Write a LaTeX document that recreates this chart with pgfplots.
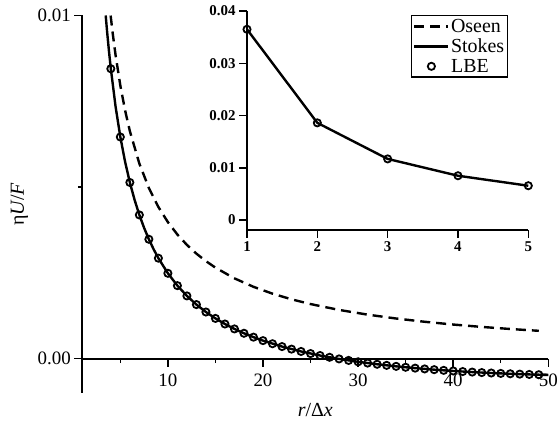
\documentclass[border=0pt]{standalone}
\usepackage{fontspec}
\setmainfont{Liberation Serif}
\usepackage{pgfplots}
\pgfplotsset{compat=1.18}
\begin{document}
\begin{tikzpicture}
\useasboundingbox (0,0) rectangle (558bp,428bp);
\begin{axis}[
  at={(82.3bp,35bp)}, anchor=south west,
  scale only axis, width=466bp, height=377.5bp,
  xmin=1, xmax=50, ymin=-0.001, ymax=0.01,
  axis x line=middle, axis y line=left,
  axis line style={-, line width=1.8bp},
  xtick={10,20,30,40,50}, xticklabels={10,20,30,40,50},
  minor xtick={5,15,25,35,45},
  ytick={0,0.01}, yticklabels={0.00,0.01}, minor ytick={0.005},
  hide obscured y ticks=false, hide obscured x ticks=false,
  tick align=outside,
  major tick length=8bp, minor tick length=4.5bp,
  tick style={black, line width=1.5bp},
  tick label style={font=\fontsize{19}{19}\selectfont},
  xticklabel style={yshift=-4bp},
  /pgf/number format/assume math mode=true,
  scaled y ticks=false,
  xlabel={{\itshape r}/Δ{\itshape x}},
  xlabel style={at={(axis description cs:0.5,-0.045)}, anchor=center, font=\fontsize{20}{20}\selectfont},
  ylabel={η{\itshape U}/{\itshape F}},
  ylabel style={at={(axis description cs:-0.135,0.5)}, anchor=center, font=\fontsize{20}{20}\selectfont},
  clip=true,
]
\addplot[black, line width=2.4bp, dash pattern=on 10bp off 6bp] coordinates {
(3.98,0.0099970) (4.2,0.0094735) (4.5,0.0088419) (5,0.0079577) (5.5,0.0072343)
(6,0.0066315) (7,0.0056841) (8,0.0049736) (9,0.0044210) (10,0.0039789)
(11,0.0036172) (12,0.0033157) (13,0.0030607) (14,0.0028421) (15,0.0026526)
(17,0.0023405) (19,0.0020942) (21,0.0018947) (23,0.0017299) (25,0.0015915)
(28,0.0014210) (31,0.0012835) (34,0.0011703) (37,0.0010754) (40,0.0009947)
(43,0.0009253) (46,0.0008650) (49,0.0008120)};
\addplot[black, line width=2.4bp] coordinates {
(3.46,0.0100007) (3.6,0.0095536) (3.8,0.0089720) (4,0.0084487) (4.5,0.0073438)
(5,0.0064600) (5.5,0.0057371) (6,0.0051348) (6.5,0.0046252) (7,0.0041886)
(7.5,0.0038104) (8,0.0034795) (8.5,0.0031876) (9,0.0029285) (10,0.0024881)
(11,0.0021283) (12,0.0018290) (13,0.0015763) (14,0.0013601) (15,0.0011733)
(16,0.0010104) (17,0.0008671) (18,0.0007403) (19,0.0006274) (20,0.0005262)
(22,0.0003531) (24,0.0002109) (26,0.0000925) (28,-0.0000069) (30,-0.0000909)
(32,-0.0001624) (34,-0.0002234) (36,-0.0002756) (38,-0.0003201) (40,-0.0003581)
(42,-0.0003903) (44,-0.0004176) (46,-0.0004403) (48,-0.0004591) (50,-0.0004742)};
\addplot[black, only marks, mark=o, mark size=3.6bp, line width=1.8bp] coordinates {
(4,0.0084487) (5,0.0064600) (6,0.0051348) (7,0.0041886) (8,0.0034795)
(9,0.0029285) (10,0.0024881) (11,0.0021283) (12,0.0018290) (13,0.0015763)
(14,0.0013601) (15,0.0011733) (16,0.0010104) (17,0.0008671) (18,0.0007403)
(19,0.0006274) (20,0.0005262) (21,0.0004353) (22,0.0003531) (23,0.0002786)
(24,0.0002109) (25,0.0001490) (26,0.0000925) (27,0.0000408) (28,-0.0000069)
(29,-0.0000506) (30,-0.0000909) (31,-0.0001281) (32,-0.0001624) (33,-0.0001941)
(34,-0.0002234) (35,-0.0002505) (36,-0.0002756) (37,-0.0002987) (38,-0.0003201)
(39,-0.0003398) (40,-0.0003581) (41,-0.0003749) (42,-0.0003903) (43,-0.0004046)
(44,-0.0004176) (45,-0.0004295) (46,-0.0004403) (47,-0.0004502) (48,-0.0004591)
(49,-0.0004671)};
\end{axis}
\begin{axis}[
  at={(247bp,198bp)}, anchor=south west,
  scale only axis, width=281.3bp, height=219bp,
  xmin=1, xmax=5, ymin=-0.0019, ymax=0.04,
  axis lines=left,
  axis line style={-, line width=1.8bp},
  xtick={1,2,3,4,5},
  ytick={0,0.01,0.02,0.03,0.04}, yticklabels={0,0.01,0.02,0.03,0.04},
  tick align=outside, major tick length=8bp,
  tick style={black, line width=1.5bp},
  tick label style={font=\fontsize{15}{15}\selectfont\bfseries},
  /pgf/number format/assume math mode=true,
  scaled y ticks=false,
  legend cell align=left,
  legend image code/.code={\draw[mark repeat=2, mark phase=2, #1] plot coordinates {(0bp,0bp) (17bp,0bp) (34bp,0bp)};},
  legend style={at={(axis description cs:0.929,0.982)}, anchor=north east, draw=black, line width=1.2bp,
    font=\fontsize{20}{20}\selectfont, inner sep=2bp, row sep=2bp,
    nodes={inner sep=1.5bp}},
]
\addlegendimage{black, line width=2.4bp, dash pattern=on 10bp off 6bp}
\addlegendentry{Oseen}
\addplot[black, line width=2.4bp] coordinates {(1,0.0365) (2,0.0186) (3,0.0117) (4,0.00848) (5,0.00657)};
\addlegendentry{Stokes}
\addplot[black, only marks, mark=o, mark size=3.6bp, line width=1.8bp] coordinates {(1,0.0365) (2,0.0186) (3,0.0117) (4,0.00848) (5,0.00657)};
\addlegendentry{LBE}
\end{axis}
\end{tikzpicture}
\end{document}
